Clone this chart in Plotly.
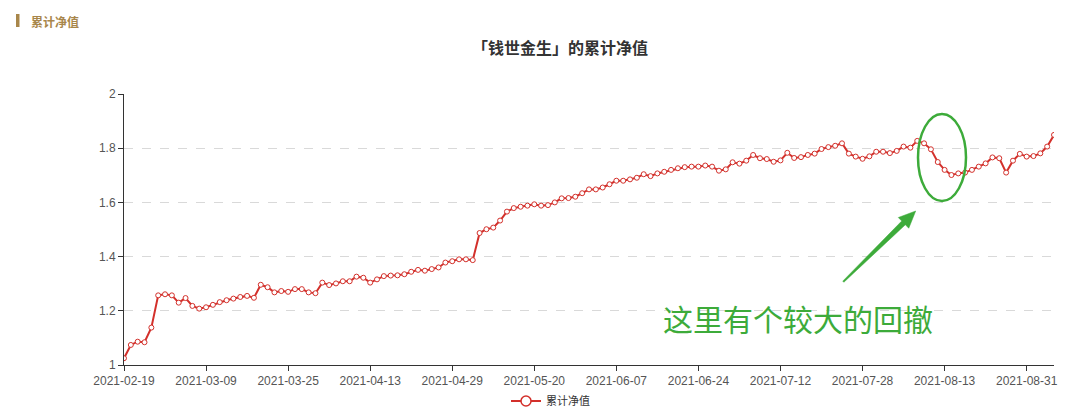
import math
import pandas as pd
import plotly.graph_objects as go

# ---- data ----
holidays = ["2021-04-05", "2021-05-03", "2021-05-04", "2021-05-05", "2021-06-14"]
trade_days = pd.bdate_range("2021-02-19", "2021-09-06", freq="C", holidays=holidays)
nav_values = [
    1.025, 1.074, 1.086, 1.084, 1.138, 1.257, 1.261, 1.257, 1.230, 1.247,
    1.218, 1.208, 1.213, 1.222, 1.232, 1.239, 1.245, 1.251, 1.255, 1.248,
    1.296, 1.287, 1.268, 1.273, 1.270, 1.280, 1.280, 1.268, 1.265, 1.304,
    1.295, 1.301, 1.309, 1.309, 1.326, 1.322, 1.304, 1.316, 1.328, 1.330,
    1.331, 1.335, 1.344, 1.351, 1.348, 1.354, 1.360, 1.378, 1.383, 1.390,
    1.390, 1.387, 1.487, 1.501, 1.507, 1.533, 1.566, 1.579, 1.584, 1.588,
    1.593, 1.588, 1.590, 1.600, 1.615, 1.616, 1.621, 1.634, 1.648, 1.648,
    1.655, 1.667, 1.680, 1.680, 1.685, 1.691, 1.704, 1.697, 1.707, 1.713,
    1.720, 1.726, 1.730, 1.732, 1.732, 1.736, 1.732, 1.717, 1.722, 1.748,
    1.743, 1.754, 1.775, 1.763, 1.760, 1.750, 1.755, 1.783, 1.764, 1.767,
    1.775, 1.780, 1.797, 1.804, 1.809, 1.818, 1.780, 1.769, 1.761, 1.770,
    1.787, 1.787, 1.782, 1.790, 1.806, 1.802, 1.827, 1.818, 1.796, 1.749,
    1.720, 1.701, 1.707, 1.710, 1.720, 1.732, 1.744, 1.766, 1.763, 1.710,
    1.754, 1.779, 1.769, 1.771, 1.781, 1.806, 1.849,
]
dates = [d.strftime("%Y-%m-%d") for d in trade_days][: len(nav_values)]
tick_labels = ["2021-02-19", "2021-03-09", "2021-03-25", "2021-04-13", "2021-04-29",
               "2021-05-20", "2021-06-07", "2021-06-24", "2021-07-12", "2021-07-28",
               "2021-08-13", "2021-08-31"]
y_ticks = [1, 1.2, 1.4, 1.6, 1.8, 2]
series_name = "累计净值"
title_text = "「钱世金生」的累计净值"
header_text = "累计净值"
note_text = "这里有个较大的回撤"

# ---- layout constants (pixels, in window coordinates; page body has 8px margin) ----
OFF = 8
W, H = 1080 - OFF, 419 - OFF
L, R, T, B = 124 - OFF, 26, 94 - OFF, 54
PW, PH = W - L - R, H - T - B

def px(xp):
    return (xp - OFF - L) / PW

def py(yp):
    return (H - B - (yp - OFF)) / PH

RED = "#d3302b"
GREEN = "#3dab3a"
GOLD = "#a8864a"
FONT = "Liberation Sans, Noto Sans CJK SC, sans-serif"
CJK = "Noto Sans CJK SC, sans-serif"

fig = go.Figure()
fig.add_trace(go.Scatter(
    x=dates, y=nav_values, name=series_name, mode="lines+markers",
    line=dict(color=RED, width=2), showlegend=False,
    marker=dict(symbol="circle", size=5, color="white", line=dict(color=RED, width=1)),
))
# legend entry with a larger symbol, like the reference
fig.add_trace(go.Scatter(
    x=[None], y=[None], name=series_name, mode="lines+markers",
    line=dict(color=RED, width=2),
    marker=dict(symbol="circle", size=10, color="white", line=dict(color=RED, width=1.5)),
))

# arrow as filled wedge
tx, ty = 843.3, 281.7
pxh, pyh = 915.7, 211.0
dx, dy = pxh - tx, pyh - ty
ln = math.hypot(dx, dy)
ux, uy = dx / ln, dy / ln
nx, ny = -uy, ux
bx, by = pxh - ux * 17, pyh - uy * 17
pts = [
    (tx - nx * 0.8, ty - ny * 0.8),
    (bx - nx * 2.6, by - ny * 2.6),
    (bx - nx * 7.5, by - ny * 7.5),
    (pxh, pyh),
    (bx + nx * 7.5, by + ny * 7.5),
    (bx + nx * 2.6, by + ny * 2.6),
    (tx + nx * 0.8, ty + ny * 0.8),
]
path = "M " + " L ".join(f"{px(a):.5f},{py(b):.5f}" for a, b in pts) + " Z"

shapes = [
    dict(type="circle", xref="paper", yref="paper",
         x0=px(918), x1=px(966), y0=py(201), y1=py(114),
         line=dict(color=GREEN, width=2.5)),
    dict(type="path", xref="paper", yref="paper", path=path,
         fillcolor=GREEN, line=dict(color=GREEN, width=0.5)),
    dict(type="rect", xref="paper", yref="paper",
         x0=px(16), x1=px(19.5), y0=py(27), y1=py(14),
         fillcolor=GOLD, line=dict(width=0)),
]

annotations = [
    dict(text=note_text, xref="paper", yref="paper", x=px(798), y=py(318),
         xanchor="center", yanchor="middle", showarrow=False,
         font=dict(family=CJK, size=30, color=GREEN)),
    dict(text=f"<b>{header_text}</b>", xref="paper", yref="paper", x=px(29), y=py(21),
         xanchor="left", yanchor="middle", showarrow=False,
         font=dict(family=CJK, size=12, color=GOLD)),
]

fig.update_layout(
    width=W, height=H,
    margin=dict(l=L, r=R, t=T, b=B, autoexpand=False),
    paper_bgcolor="white", plot_bgcolor="white",
    font=dict(family=FONT, size=12, color="#555"),
    title=dict(text=f"<b>{title_text}</b>", x=(560 - OFF) / W, y=1 - (48 - OFF) / H,
               xanchor="center", yanchor="middle", xref="container", yref="container",
               font=dict(family=CJK, size=16, color="#333")),
    showlegend=True,
    legend=dict(orientation="h", x=px(506), y=py(401), xanchor="left", yanchor="middle",
                font=dict(family=CJK, size=11, color="#333"), bgcolor="rgba(0,0,0,0)"),
    shapes=shapes, annotations=annotations,
)
fig.update_xaxes(
    type="category", range=[0, len(nav_values) - 1],
    tickmode="array", tickvals=tick_labels, ticktext=tick_labels,
    showgrid=False, showline=True, linecolor="#333", linewidth=1,
    ticks="outside", ticklen=5, tickcolor="#333",
    tickfont=dict(family=FONT, size=12, color="#555"), tickangle=0,
)
fig.update_yaxes(
    range=[1, 2], tickvals=y_ticks, ticktext=[f"{v:g}" for v in y_ticks],
    showgrid=True, gridcolor="#d9d9d9", griddash="dash", gridwidth=1,
    showline=True, linecolor="#333", linewidth=1,
    ticks="outside", ticklen=5, tickcolor="#333",
    tickfont=dict(family=FONT, size=12, color="#555"), zeroline=False,
)

fig.write_html("out.html")
